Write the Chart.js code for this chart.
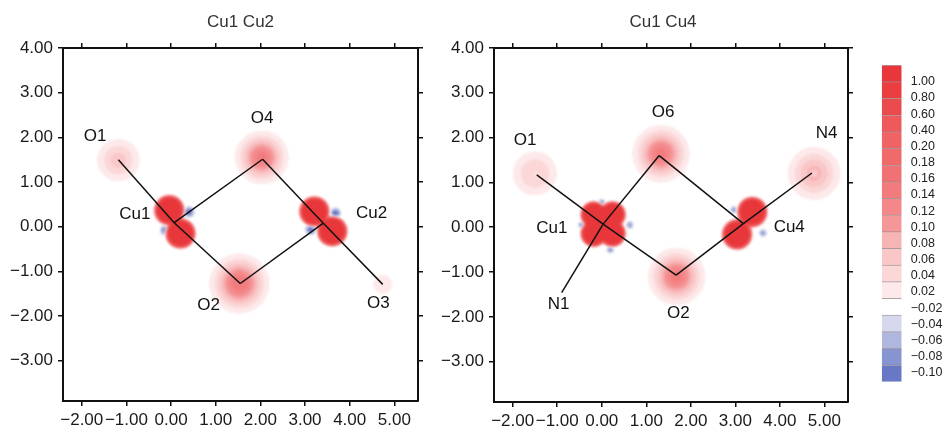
<!DOCTYPE html>
<html>
<head>
<meta charset="utf-8">
<script src="https://cdn.jsdelivr.net/npm/chart.js@4.4.1/dist/chart.umd.min.js"></script>
<style>
  html, body { margin: 0; padding: 0; background: #fff; }
  #wrap { position: relative; width: 952px; height: 430px; }
  .box { position: absolute; top: 0; height: 430px; }
</style>
</head>
<body>
<div id="wrap">
  <div class="box" style="left:0;width:430px"><canvas id="left"></canvas></div>
  <div class="box" style="left:430px;width:430px"><canvas id="right"></canvas></div>
  <div class="box" style="left:860px;width:92px"><canvas id="bar"></canvas></div>
</div>
<script>
// ---- data ----
const xTicks = [-2, -1, 0, 1, 2, 3, 4, 5];
const yTicks = [4, 3, 2, 1, 0, -1, -2, -3];

// contour levels (colour bar, top to bottom)
const levelLabels = [1.00, 0.80, 0.60, 0.40, 0.20, 0.18, 0.16, 0.14, 0.12, 0.10,
                     0.08, 0.06, 0.04, 0.02, -0.02, -0.04, -0.06, -0.08, -0.10];
const levelColors = ["#e8373a", "#ea3e40", "#ec4b4d", "#ee5a5c", "#ef6365", "#f06a6c",
                     "#f17274", "#f27b7d", "#f38789", "#f59698", "#f7b4b5", "#f9c7c8",
                     "#fbd7d8", "#fde9ea", "#ffffff", "#d6d9ed", "#b0b7de", "#8694d0", "#6878c4"];

// left panel: Cu1 Cu2
const leftTitle = "Cu1 Cu2";
const leftAtomNames = ["Cu1", "Cu2", "O1", "O2", "O3", "O4"];
const leftAtomX = [0.07, 3.41, -1.18, 1.55, 4.74, 2.05];
const leftAtomY = [0.09, 0.08, 1.50, -1.27, -1.29, 1.51];
const leftLabelX = [-0.81, 4.49, -1.70, 0.84, 4.64, 2.04];
const leftLabelY = [0.28, 0.30, 2.02, -1.76, -1.72, 2.42];
const leftBonds = [["O1", "Cu1"], ["Cu1", "O2"], ["Cu1", "O4"], ["O4", "Cu2"], ["O2", "Cu2"], ["Cu2", "O3"]];
// density peaks
const leftPeakX = [-0.04, 0.21, 3.21, 3.61, 0.40, -0.12, 3.68, 3.13, -1.18, 1.53, 4.74, 2.03];
const leftPeakY = [0.37, -0.15, 0.34, -0.10, 0.33, -0.08, 0.30, -0.06, 1.49, -1.27, -1.29, 1.55];
const leftPeakAmp = [2, 2, 2, 2, -0.1, -0.1, -0.1, -0.1, 0.07, 0.16, 0.035, 0.15];
const leftPeakWidth = [0.25, 0.25, 0.25, 0.25, 0.075, 0.075, 0.075, 0.075, 0.30, 0.33, 0.20, 0.30];
const leftPeakPower = [6, 6, 6, 6, 2, 2, 2, 2, 2, 2, 2, 2];

// right panel: Cu1 Cu4
const rightTitle = "Cu1 Cu4";
const rightAtomNames = ["Cu1", "Cu4", "O1", "O6", "N4", "O2", "N1"];
const rightAtomX = [0.03, 3.18, -1.46, 1.29, 4.72, 1.67, -0.90];
const rightAtomY = [0.07, 0.08, 1.17, 1.60, 1.21, -1.07, -1.46];
const rightLabelX = [-1.12, 4.21, -1.72, 1.38, 5.05, 1.72, -0.97];
const rightLabelY = [-0.03, 0.00, 1.95, 2.57, 2.10, -1.91, -1.72];
const rightBonds = [["O1", "Cu1"], ["Cu1", "O2"], ["N1", "Cu1"], ["Cu1", "O6"], ["O6", "Cu4"], ["O2", "Cu4"], ["Cu4", "N4"]];
const rightPeakX = [-0.18, 0.24, -0.18, 0.24, 3.38, 3.04, 0.00, -0.45, 0.63, 0.19, 2.97, 3.62, -1.50, -1.50, 1.33, 4.77, 4.77, 1.68];
const rightPeakY = [0.28, 0.28, -0.14, -0.14, 0.34, -0.16, 0.55, 0.05, 0.05, -0.50, 0.39, -0.13, 1.20, 1.20, 1.64, 1.20, 1.20, -1.10];
const rightPeakAmp = [2, 2, 2, 2, 2, 2, -0.07, -0.07, -0.07, -0.07, -0.07, -0.07, 0.065, -0.03, 0.15, 0.09, -0.035, 0.15];
const rightPeakWidth = [0.22, 0.22, 0.22, 0.22, 0.25, 0.25, 0.055, 0.055, 0.055, 0.055, 0.055, 0.055, 0.32, 0.05, 0.32, 0.34, 0.05, 0.32];
const rightPeakPower = [6, 6, 6, 6, 6, 6, 2, 2, 2, 2, 2, 2, 2, 2, 2, 2, 2, 2];

// ---- helpers ----
const FONT = "'Liberation Sans', Arial, Helvetica, sans-serif";
Chart.defaults.font.family = FONT;
const el = (id) => document.getElementById(id);

function fmt(v) {
  return (v < 0 ? "\u2212" : "") + Math.abs(v).toFixed(2);
}

function hexToRgb(h) {
  const n = parseInt(h.slice(1), 16);
  return [(n >> 16) & 255, (n >> 8) & 255, n & 255];
}
const levelRgb = levelColors.map(hexToRgb);

function levelIndex(f) {
  for (let k = 0; k < levelLabels.length; k++) {
    if (f >= levelLabels[k]) return k;
  }
  return levelLabels.length - 1;
}

// filled contour map drawn from the peak lists
function densityPlugin(px, py, amp, wid, pow) {
  return {
    id: "density",
    beforeDatasetsDraw(chart) {
      const { ctx, chartArea: a, scales: { x, y } } = chart;
      const w = Math.round(a.right - a.left), h = Math.round(a.bottom - a.top);
      const off = document.createElement("canvas");
      off.width = w; off.height = h;
      const octx = off.getContext("2d");
      const img = octx.createImageData(w, h);
      const white = levelLabels.indexOf(-0.02);
      for (let j = 0; j < h; j++) {
        const vy = y.getValueForPixel(a.top + j + 0.5);
        for (let i = 0; i < w; i++) {
          const vx = x.getValueForPixel(a.left + i + 0.5);
          let f = 0;
          for (let k = 0; k < px.length; k++) {
            const dx = vx - px[k], dy = vy - py[k];
            const t = (dx * dx + dy * dy) / (wid[k] * wid[k]);
            if (t > 40) continue;
            f += amp[k] * Math.exp(-0.5 * Math.pow(t, pow[k] / 2));
          }
          const c = levelIndex(f);
          if (c === white) continue;
          const p = (j * w + i) * 4, rgb = levelRgb[c];
          img.data[p] = rgb[0]; img.data[p + 1] = rgb[1]; img.data[p + 2] = rgb[2]; img.data[p + 3] = 255;
        }
      }
      octx.putImageData(img, 0, 0);
      ctx.save();
      ctx.filter = "blur(0.8px)";
      ctx.drawImage(off, a.left, a.top);
      ctx.restore();
    }
  };
}

function labelPlugin(names, lx, ly, title, titleDx) {
  return {
    id: "atomLabels",
    afterDatasetsDraw(chart) {
      const { ctx, chartArea: a, scales: { x, y } } = chart;
      ctx.save();
      ctx.font = "17px " + FONT;
      ctx.fillStyle = "#111";
      ctx.textAlign = "center";
      ctx.textBaseline = "middle";
      names.forEach((n, i) => ctx.fillText(n, x.getPixelForValue(lx[i]), y.getPixelForValue(ly[i])));
      ctx.fillStyle = "#333";
      ctx.fillText(title, (a.left + a.right) / 2 + titleDx, 22);
      ctx.restore();
    }
  };
}

function bondSets(names, ax, ay, bonds) {
  const pos = (n) => { const i = names.indexOf(n); return { x: ax[i], y: ay[i] }; };
  return bonds.map(([p, q]) => ({
    data: [pos(p), pos(q)],
    showLine: true,
    borderColor: "#111",
    borderWidth: 1.5,
    pointRadius: 0,
    fill: false
  }));
}

function panelScales(leftW, rightW, bottomH) {
  const base = {
    type: "linear",
    border: { display: true, color: "#111", width: 2 },
    grid: { display: true, drawOnChartArea: false, drawTicks: true, tickLength: 5, color: "#111", lineWidth: 1.5 }
  };
  const font = { size: 17 };
  const setX = (s) => { s.ticks = xTicks.map(v => ({ value: v })); };
  const setY = (s) => { s.ticks = yTicks.map(v => ({ value: v })); };
  return {
    x: { ...base, position: "bottom", min: -2.42, max: 5.53,
         ticks: { font, color: "#1a1a1a", padding: 4, maxRotation: 0, autoSkip: false, callback: (v) => fmt(v) },
         afterBuildTicks: setX, afterFit: (s) => { s.height = bottomH; } },
    xTop: { ...base, position: "top", min: -2.42, max: 5.53, ticks: { display: false },
         afterBuildTicks: setX, afterFit: (s) => { s.height = 48; } },
    y: { ...base, position: "left", min: -3.9, max: 4,
         ticks: { font, color: "#1a1a1a", padding: 5, autoSkip: false, callback: (v) => fmt(v) },
         afterBuildTicks: setY, afterFit: (s) => { s.width = leftW; } },
    yRight: { ...base, position: "right", min: -3.9, max: 4, ticks: { display: false },
         afterBuildTicks: setY, afterFit: (s) => { s.width = rightW; } }
  };
}

function makePanel(canvasId, cfg) {
  return new Chart(el(canvasId), {
    type: "scatter",
    data: { datasets: bondSets(cfg.names, cfg.ax, cfg.ay, cfg.bonds) },
    options: {
      responsive: true,
      maintainAspectRatio: false,
      animation: false,
      layout: { padding: 0 },
      plugins: { legend: { display: false }, tooltip: { enabled: false } },
      scales: panelScales(cfg.leftW, cfg.rightW, cfg.bottomH)
    },
    plugins: [
      densityPlugin(cfg.px, cfg.py, cfg.amp, cfg.wid, cfg.pow),
      labelPlugin(cfg.names, cfg.lx, cfg.ly, cfg.title, cfg.titleDx)
    ]
  });
}

makePanel("left", {
  names: leftAtomNames, ax: leftAtomX, ay: leftAtomY, bonds: leftBonds,
  lx: leftLabelX, ly: leftLabelY, title: leftTitle, titleDx: 0,
  px: leftPeakX, py: leftPeakY, amp: leftPeakAmp, wid: leftPeakWidth, pow: leftPeakPower,
  leftW: 63, rightW: 12, bottomH: 29
});

makePanel("right", {
  names: rightAtomNames, ax: rightAtomX, ay: rightAtomY, bonds: rightBonds,
  lx: rightLabelX, ly: rightLabelY, title: rightTitle, titleDx: -8,
  px: rightPeakX, py: rightPeakY, amp: rightPeakAmp, wid: rightPeakWidth, pow: rightPeakPower,
  leftW: 64, rightW: 12, bottomH: 28
});

// colour bar: one stacked bar, one cell per contour level
new Chart(el("bar"), {
  type: "bar",
  data: {
    labels: [""],
    datasets: levelColors.map((c) => ({
      data: [1],
      backgroundColor: c,
      borderColor: "rgba(70,50,60,0.45)",
      borderWidth: { top: 1, bottom: 0, left: 0, right: 0 },
      borderSkipped: false,
      categoryPercentage: 1,
      barPercentage: 1
    })).reverse()
  },
  options: {
    responsive: true,
    maintainAspectRatio: false,
    animation: false,
    layout: { padding: { left: 21.7, top: 65, bottom: 48.3, right: 0 } },
    plugins: { legend: { display: false }, tooltip: { enabled: false } },
    scales: {
      x: { display: false, stacked: true },
      y: { display: false, stacked: true, min: 0, max: levelColors.length },
      yl: {
        position: "right", min: -1.033, max: 18.55, reverse: true,
        grid: { display: false, drawTicks: false },
        border: { display: false },
        ticks: { padding: 9, font: { size: 12.5 }, color: "#222", autoSkip: false,
                 callback: (v) => fmt(levelLabels[v]) },
        afterBuildTicks: (s) => { s.ticks = levelLabels.map((_, i) => ({ value: i })); },
        afterFit: (s) => { s.width = 50.3; }
      }
    }
  }
});
</script>
</body>
</html>
